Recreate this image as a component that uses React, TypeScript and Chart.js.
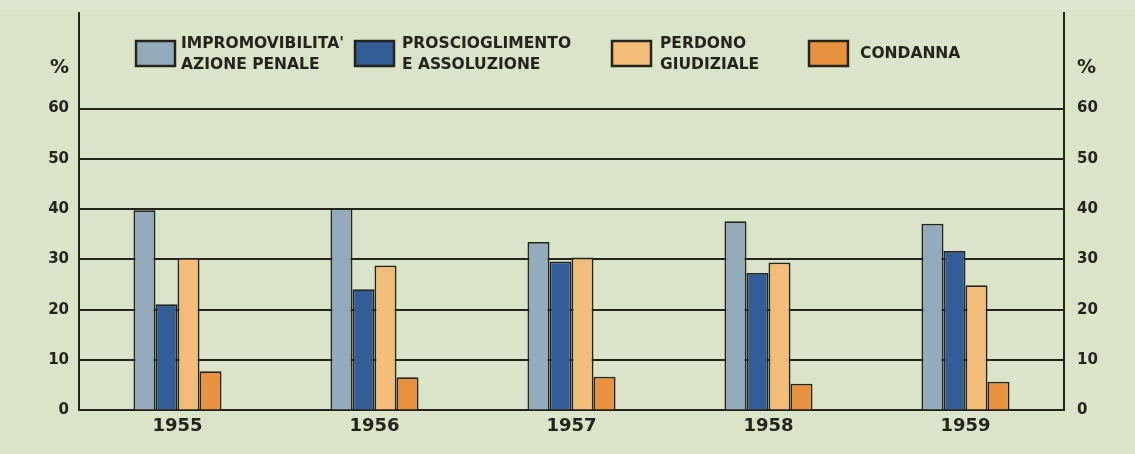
import React, { useEffect, useRef } from 'react';
import { Chart, registerables } from 'chart.js';

Chart.register(...registerables);

const categories = ['1955', '1956', '1957', '1958', '1959'];
const impromovibilita = [39.8, 40.2, 33.5, 37.6, 37.1];
const proscioglimento = [21.1, 24.1, 29.6, 27.3, 31.7];
const perdono = [30.3, 28.8, 30.4, 29.4, 24.9];
const condanna = [7.8, 6.6, 6.7, 5.3, 5.7];
const seriesLines = [
  ["IMPROMOVIBILITA'", 'AZIONE PENALE'],
  ['PROSCIOGLIMENTO', 'E ASSOLUZIONE'],
  ['PERDONO', 'GIUDIZIALE'],
  ['CONDANNA'],
];
const yTickValues = [0, 10, 20, 30, 40, 50, 60];
const percentTick = 68;

const BG = '#d9e4c9';
const INK = '#24241d';
const colors = ['#93abba', '#325d96', '#f2bd78', '#e8913f'];
const legendBoxX = [136, 355, 612, 809];
const legendTextX = [181, 402, 660, 860];

const bgPlugin = {
  id: 'paperBg',
  beforeDraw(chart: any) {
    const { ctx, width, height } = chart;
    ctx.save();
    ctx.fillStyle = BG;
    ctx.fillRect(0, 0, width, height);
    ctx.fillStyle = '#e0e7d0';
    ctx.fillRect(0, 0, width, 10);
    ctx.restore();
  },
};

const legendPlugin = {
  id: 'customLegend',
  afterDraw(chart: any) {
    const { ctx } = chart;
    ctx.save();
    chart.data.datasets.forEach((ds: any, i: number) => {
      const bx = legendBoxX[i];
      const by = 41;
      ctx.fillStyle = ds.backgroundColor;
      ctx.fillRect(bx, by, 39, 25);
      ctx.lineWidth = 2.5;
      ctx.strokeStyle = INK;
      ctx.strokeRect(bx, by, 39, 25);
      ctx.fillStyle = INK;
      ctx.font = 'bold 15.5px "DejaVu Sans"';
      ctx.textBaseline = 'middle';
      ctx.textAlign = 'left';
      const lines: string[] = ds.lines;
      if (lines.length === 1) {
        ctx.fillText(lines[0], legendTextX[i], 54);
      } else {
        ctx.fillText(lines[0], legendTextX[i], 44);
        ctx.fillText(lines[1], legendTextX[i], 65);
      }
    });
    ctx.restore();
  },
};

function yAxis(position: 'left' | 'right', showGrid: boolean, width: number, padding: number) {
  return {
    position,
    min: 0,
    max: 79,
    afterBuildTicks: (scale: any) => {
      scale.ticks = [...yTickValues, percentTick].map((v) => ({ value: v }));
    },
    afterFit: (scale: any) => {
      scale.width = width;
      scale.paddingTop = 0;
      scale.paddingBottom = 0;
    },
    ticks: {
      color: INK,
      font: (c: any) =>
        c.tick && c.tick.value === percentTick
          ? { family: '"DejaVu Sans"', weight: 'bold', size: 19 }
          : { family: '"DejaVu Sans"', weight: 'bold', size: 15 },
      padding,
      callback: (v: any) => (v === percentTick ? '%' : String(v)),
    },
    grid: {
      display: showGrid,
      drawTicks: false,
      lineWidth: 2,
      color: (c: any) => (c.tick && c.tick.value === percentTick ? 'rgba(0,0,0,0)' : INK),
    },
    border: { display: true, color: INK, width: 2 },
  };
}

export default function App() {
  const ref = useRef<HTMLCanvasElement | null>(null);

  useEffect(() => {
    document.body.style.margin = '0';
    const canvas = ref.current;
    if (!canvas) return;
    const series = [impromovibilita, proscioglimento, perdono, condanna];
    const chart = new Chart(canvas, {
      type: 'bar',
      data: {
        labels: categories,
        datasets: series.map((data, i) => ({
          label: seriesLines[i].join(' '),
          lines: seriesLines[i],
          data,
          backgroundColor: colors[i],
          borderColor: INK,
          borderWidth: 1.8,
          categoryPercentage: 0.447,
          barPercentage: 1,
          yAxisID: 'y',
        })) as any,
      },
      options: {
        responsive: false,
        animation: false,
        devicePixelRatio: 1,
        layout: { padding: { top: 13, bottom: 12, left: 0, right: 0 } },
        plugins: {
          legend: { display: false },
          tooltip: { enabled: false },
        },
        scales: {
          x: {
            offset: true,
            ticks: { color: INK, font: { family: '"DejaVu Sans"', weight: 'bold', size: 18 }, padding: 5 },
            grid: { display: false, drawTicks: false },
            border: { display: true, color: INK, width: 2 },
          },
          y: yAxis('left', true, 79, 10) as any,
          y2: yAxis('right', false, 71, 13) as any,
        },
      },
      plugins: [bgPlugin, legendPlugin],
    });
    return () => chart.destroy();
  }, []);

  return (
    <div style={{ width: 1135, height: 454 }}>
      <canvas ref={ref} width={1135} height={454} style={{ display: 'block' }} />
    </div>
  );
}
